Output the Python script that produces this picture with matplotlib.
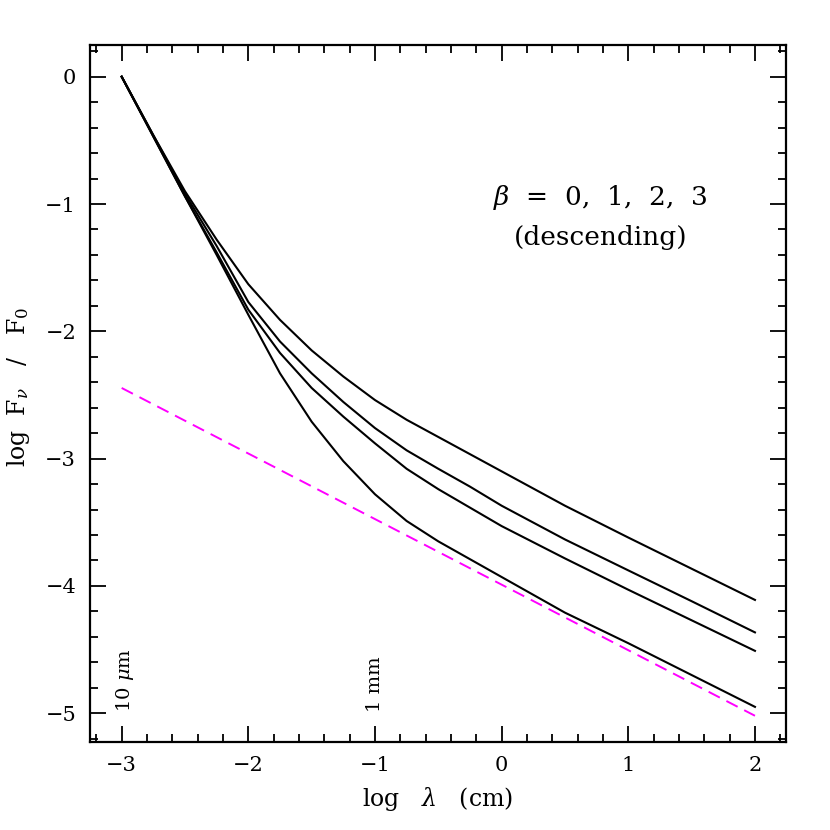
import matplotlib
matplotlib.use("Agg")
import matplotlib.pyplot as plt
from matplotlib.ticker import MultipleLocator

plt.rcParams['font.family'] = ['DejaVu Serif']
plt.rcParams['mathtext.fontset'] = 'dejavuserif'

log_lambda = [-3.0, -2.75, -2.5, -2.25, -2.0, -1.75, -1.5, -1.25, -1.0, -0.75,
              -0.5, -0.25, 0.0, 0.5, 1.0, 1.5, 2.0]
beta0 = [0.0, -0.46, -0.90, -1.28, -1.63, -1.91, -2.15, -2.355, -2.54, -2.695,
         -2.83, -2.965, -3.10, -3.37, -3.62, -3.865, -4.11]
beta1 = [0.0, -0.46, -0.92, -1.33, -1.77, -2.08, -2.33, -2.555, -2.76, -2.935,
         -3.08, -3.22, -3.37, -3.635, -3.878, -4.12, -4.365]
beta2 = [0.0, -0.47, -0.94, -1.38, -1.83, -2.17, -2.445, -2.67, -2.88, -3.08,
         -3.24, -3.385, -3.53, -3.784, -4.03, -4.27, -4.51]
beta3 = [0.0, -0.47, -0.94, -1.40, -1.87, -2.33, -2.71, -3.02, -3.28, -3.49,
         -3.65, -3.79, -3.93, -4.21, -4.45, -4.70, -4.95]
dashed_x = [-3.0, 2.0]
dashed_y = [-2.445, -5.02]

fig = plt.figure(figsize=(8.3, 8.3), dpi=100)
ax = fig.add_axes([90/830, 1-742/830, (786-90)/830, (742-45)/830])

for ys in (beta0, beta1, beta2, beta3):
    ax.plot(log_lambda, ys, color='black', lw=1.5)
ax.plot(dashed_x, dashed_y, color='#ff00ff', lw=1.4, dashes=(6.5, 3.8))

ax.set_xlim(-3.25, 2.245)
ax.set_ylim(-5.226, 0.249)

ax.xaxis.set_major_locator(MultipleLocator(1))
ax.xaxis.set_minor_locator(MultipleLocator(0.2))
ax.yaxis.set_major_locator(MultipleLocator(1))
ax.yaxis.set_minor_locator(MultipleLocator(0.2))
ax.tick_params(which='both', direction='in', top=True, right=True, labelsize=15, width=1.3)
ax.tick_params(which='major', length=11.5, pad=10)
ax.tick_params(which='minor', length=5.8)
for s in ax.spines.values():
    s.set_linewidth(1.6)

ax.set_xlabel(r'log   $\lambda$   (cm)', fontsize=17, labelpad=7)
ax.set_ylabel(r'log  F$_\nu$   /   F$_0$', fontsize=17)
ax.yaxis.set_label_coords(-0.083, 0.51)

ax.text(0.78, -0.945, r'$\beta$  =  0,  1,  2,  3', fontsize=19, ha='center', va='center')
ax.text(0.78, -1.26, '(descending)', fontsize=19, ha='center', va='center')

ax.text(-2.97, -4.99, r'10 $\mu$m', rotation=90, fontsize=14, ha='center', va='bottom')
ax.text(-1.0, -4.99, '1 mm', rotation=90, fontsize=14, ha='center', va='bottom')

fig.savefig('out.png', dpi=100)
